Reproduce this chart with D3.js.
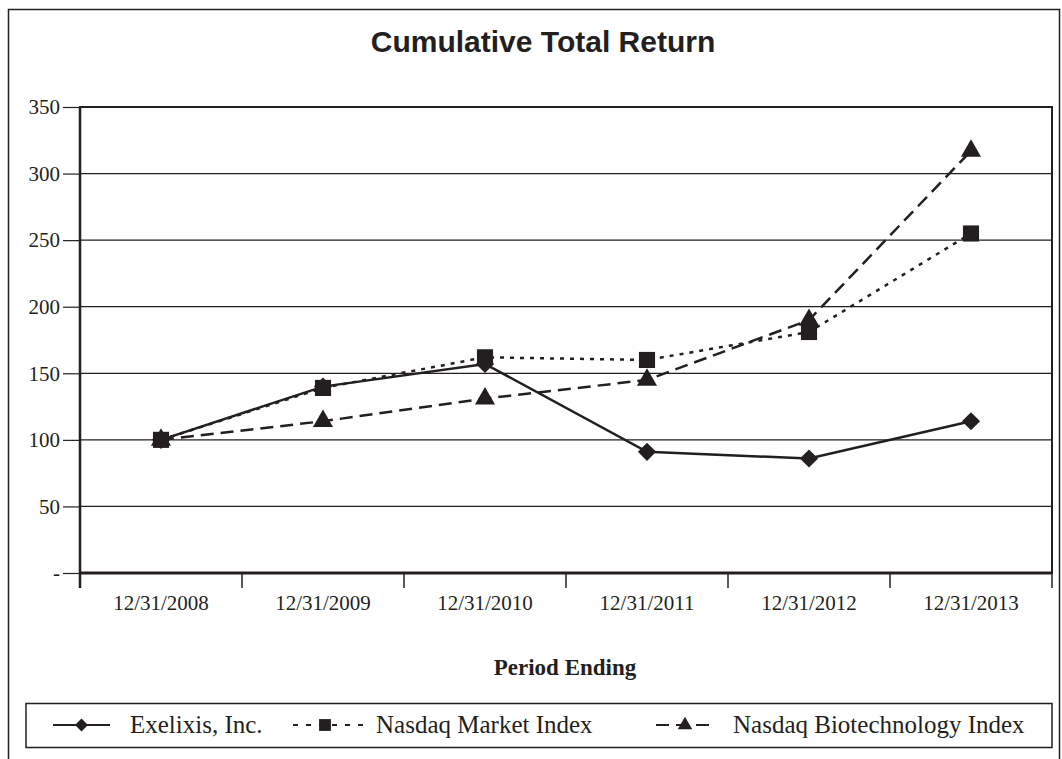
<!DOCTYPE html>
<html>
<head>
<meta charset="utf-8">
<script src="https://cdn.jsdelivr.net/npm/d3@7"></script>
<style>
  body { margin: 0; background: #fff; }
</style>
</head>
<body>
<div id="chart"></div>
<script>
const periods = ["12/31/2008", "12/31/2009", "12/31/2010", "12/31/2011", "12/31/2012", "12/31/2013"];
const exelixis = [100, 140, 157, 91, 86, 114];
const nasdaqMarket = [100, 139, 162, 160, 181, 255];
const nasdaqBiotech = [100, 114, 131, 145, 190, 317];
const yTicks = [0, 50, 100, 150, 200, 250, 300, 350];

const ink = "#231f20";
const serif = "Liberation Serif, Times New Roman, serif";

// diamond = square turned 45 degrees
const diamond = {
  draw(context, size) {
    const r = Math.sqrt(size / 2);
    context.moveTo(0, -r);
    context.lineTo(r, 0);
    context.lineTo(0, r);
    context.lineTo(-r, 0);
    context.closePath();
  }
};

const series = [
  { name: "Nasdaq Biotechnology Index", values: nasdaqBiotech, dash: "13,7", legendDash: "13,7", symbol: d3.symbolTriangle, size: 175, legendSize: 90 },
  { name: "Exelixis, Inc.", values: exelixis, dash: null, legendDash: null, symbol: diamond, size: 165, legendSize: 85 },
  { name: "Nasdaq Market Index", values: nasdaqMarket, dash: "4,6", legendDash: "5,8", symbol: d3.symbolSquare, size: 260, legendSize: 140 }
];

const width = 1062;
const height = 759;
const margin = { top: 107, left: 80 };
const innerWidth = 1052 - margin.left;
const innerHeight = 573 - margin.top;

const svg = d3.select("#chart")
  .append("svg")
  .attr("width", width)
  .attr("height", height);

// outer frame
svg.append("rect")
  .attr("x", 8.5).attr("y", 9.5)
  .attr("width", 1051).attr("height", 800)
  .attr("fill", "none").attr("stroke", ink).attr("stroke-width", 1.5);

svg.append("text")
  .text("Cumulative Total Return")
  .attr("x", 543)
  .attr("y", 52)
  .attr("text-anchor", "middle")
  .attr("font-family", "Liberation Sans, Arial, sans-serif")
  .attr("font-weight", "bold")
  .attr("font-size", 30)
  .attr("fill", ink);

const xScale = d3.scaleBand()
  .domain(periods)
  .range([0, innerWidth]);

const yScale = d3.scaleLinear()
  .domain([0, 350])
  .range([innerHeight, 0]);

const chart = svg.append("g")
  .attr("transform", `translate(${margin.left},${margin.top})`);

// gridlines
chart.selectAll(".grid")
  .data(yTicks.slice(1))
  .join("line")
    .attr("x1", 0).attr("x2", innerWidth)
    .attr("y1", d => yScale(d)).attr("y2", d => yScale(d))
    .attr("stroke", ink).attr("stroke-width", 1.2);

// y axis
const leftAxis = d3.axisLeft(yScale)
  .tickValues(yTicks)
  .tickSize(17)
  .tickPadding(3)
  .tickFormat(d => d === 0 ? "-" : d);

const yAxisG = chart.append("g").call(leftAxis);
yAxisG.select(".domain").remove();
yAxisG.selectAll("line").attr("stroke", ink).attr("stroke-width", 1.2);
yAxisG.selectAll("text")
  .attr("font-family", serif)
  .attr("font-size", 21).attr("fill", ink);

// x axis with ticks at band edges
const xAxisG = chart.append("g")
  .attr("transform", `translate(0,${innerHeight})`);

const edges = periods.map(p => xScale(p)).concat([innerWidth]);
xAxisG.selectAll(".xtick")
  .data(edges)
  .join("line")
    .attr("x1", d => d).attr("x2", d => d)
    .attr("y1", 0).attr("y2", 15)
    .attr("stroke", ink).attr("stroke-width", 1.5);

xAxisG.selectAll(".xlabel")
  .data(periods)
  .join("text")
    .text(d => d)
    .attr("x", d => xScale(d) + xScale.bandwidth() / 2)
    .attr("y", 37)
    .attr("text-anchor", "middle")
    .attr("font-family", serif)
    .attr("font-size", 21).attr("fill", ink);

// plot frame
chart.append("rect")
  .attr("x", 0).attr("y", 0)
  .attr("width", innerWidth).attr("height", innerHeight)
  .attr("fill", "none").attr("stroke", ink).attr("stroke-width", 2);
chart.append("line")
  .attr("x1", 0).attr("x2", innerWidth)
  .attr("y1", innerHeight).attr("y2", innerHeight)
  .attr("stroke", ink).attr("stroke-width", 3);
chart.append("line")
  .attr("x1", 0).attr("x2", 0)
  .attr("y1", 0).attr("y2", innerHeight + 15)
  .attr("stroke", ink).attr("stroke-width", 2.5);

const cx = i => xScale(periods[i]) + xScale.bandwidth() / 2;

const line = d3.line()
  .x((d, i) => cx(i))
  .y(d => yScale(d));

series.forEach(s => {
  chart.append("path")
    .datum(s.values)
    .attr("d", line)
    .attr("fill", "none")
    .attr("stroke", ink)
    .attr("stroke-width", 2.5)
    .attr("stroke-dasharray", s.dash);
});

series.forEach(s => {
  chart.selectAll(null)
    .data(s.values)
    .join("path")
      .attr("transform", (d, i) => `translate(${cx(i)},${yScale(d)})`)
      .attr("d", d3.symbol(s.symbol, s.size))
      .attr("fill", ink);
});

// x axis title
svg.append("text")
  .text("Period Ending")
  .attr("x", 565)
  .attr("y", 675)
  .attr("text-anchor", "middle")
  .attr("font-family", serif)
  .attr("font-weight", "bold")
  .attr("font-size", 23)
  .attr("fill", ink);

// legend
const legend = svg.append("g");
legend.append("rect")
  .attr("x", 26).attr("y", 703.5)
  .attr("width", 1026).attr("height", 44)
  .attr("fill", "none").attr("stroke", ink).attr("stroke-width", 1.5);

const legendItems = [
  { s: series[1], x: 53, w: 57, tx: 130 },
  { s: series[2], x: 293, w: 72, tx: 376 },
  { s: series[0], x: 656, w: 58, tx: 733 }
];
const ly = 725;
legendItems.forEach(item => {
  legend.append("line")
    .attr("x1", item.x).attr("x2", item.x + item.w)
    .attr("y1", ly).attr("y2", ly)
    .attr("stroke", ink).attr("stroke-width", 1.8)
    .attr("stroke-dasharray", item.s.legendDash);
  legend.append("path")
    .attr("transform", `translate(${item.x + item.w / 2 - (item.s.symbol === d3.symbolSquare ? 4 : 0)},${ly})`)
    .attr("d", d3.symbol(item.s.symbol, item.s.legendSize))
    .attr("fill", ink);
  legend.append("text")
    .text(item.s.name)
    .attr("x", item.tx)
    .attr("y", 733)
    .attr("font-family", serif)
    .attr("font-size", 25)
    .attr("fill", ink);
});
</script>
</body>
</html>
